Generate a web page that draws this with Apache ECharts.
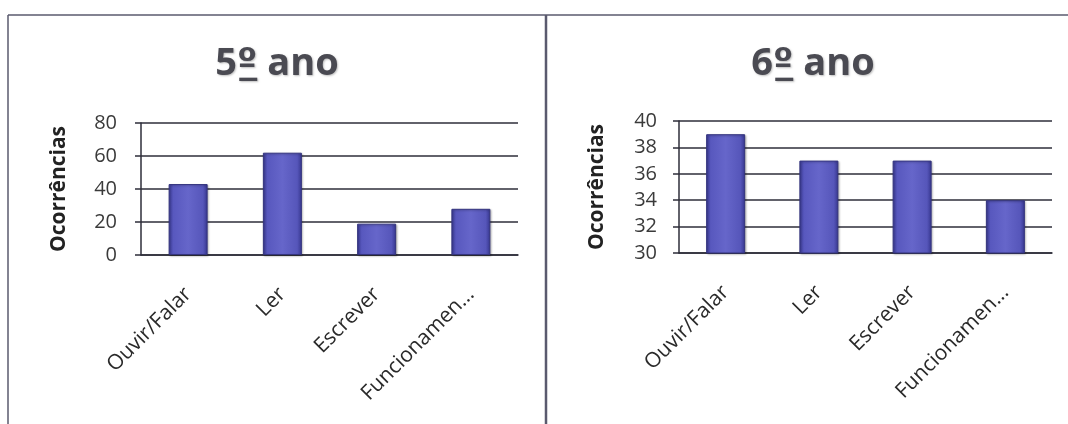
<!DOCTYPE html>
<html>
<head>
<meta charset="utf-8">
<script src="https://cdn.jsdelivr.net/npm/echarts@6/dist/echarts.min.js"></script>
<style>
  html, body { margin: 0; padding: 0; background: #fff; }
  #chart { width: 1068px; height: 424px; }
</style>
</head>
<body>
<div id="chart"></div>
<script>
// Skill categories shared by both panels
const categories = ['Ouvir/Falar', 'Ler', 'Escrever', 'Funcionamen...'];

// Occurrences per category, 5th and 6th year
const values5 = [43, 62, 19, 28];
const values6 = [39, 37, 37, 34];

// Panel titles (year number + ordinal) and axis ranges
const titleYears = ['5', '6'];
const titleSuffix = 'º ano';
const yAxisName = 'Ocorrências';
const range5 = { min: 0, max: 80, interval: 20 };
const range6 = { min: 30, max: 40, interval: 2 };

const FONT = '"Open Sans", "Liberation Sans", sans-serif';

const barColor = {
  type: 'linear', x: 0, y: 0, x2: 1, y2: 0,
  colorStops: [
    { offset: 0, color: '#3c3c98' },
    { offset: 0.12, color: '#5858be' },
    { offset: 0.5, color: '#6666ca' },
    { offset: 0.88, color: '#5656ba' },
    { offset: 1, color: '#36368e' }
  ]
};

function xAxis(gridIndex) {
  return {
    type: 'category', gridIndex, data: categories,
    axisLine: { show: true, lineStyle: { color: '#2e2e3a', width: 1.5 } },
    axisTick: { show: false },
    axisLabel: {
      rotate: 45, interval: 0, margin: 36,
      fontFamily: FONT, fontSize: 21, color: '#2a2a2a'
    }
  };
}

function yAxis(gridIndex, r, labelMargin) {
  return {
    type: 'value', gridIndex, min: r.min, max: r.max, interval: r.interval,
    name: yAxisName, nameLocation: 'middle', nameGap: 71, nameRotate: 90,
    nameTextStyle: { fontFamily: FONT, fontSize: 21, fontWeight: 'bold', color: '#222' },
    axisLine: { show: true, lineStyle: { color: '#2e2e3a', width: 1.5 } },
    axisTick: { show: true, length: 6, lineStyle: { color: '#2e2e3a', width: 1.5 } },
    axisLabel: { fontFamily: FONT, fontSize: 20, color: '#3a3a3a', margin: labelMargin },
    splitLine: { show: true, lineStyle: { color: '#2e2e3a', width: 1.5 } }
  };
}

function barSeries(idx, data) {
  return {
    type: 'bar', xAxisIndex: idx, yAxisIndex: idx, data,
    barWidth: 39,
    itemStyle: {
      color: barColor,
      borderColor: '#34347e', borderWidth: 1,
      shadowColor: 'rgba(0,0,0,0.25)', shadowBlur: 2, shadowOffsetX: 1, shadowOffsetY: 1
    }
  };
}

const shadow = { textShadowColor: 'rgba(0,0,0,0.25)', textShadowBlur: 2, textShadowOffsetX: 1, textShadowOffsetY: 1 };
const titleStyle = Object.assign({
  fontFamily: FONT, fontSize: 38, fontWeight: 'bold', color: '#4a4a52',
  rich: {
    n: Object.assign({ fontFamily: FONT, fontSize: 38, fontWeight: 'bold', color: '#4a4a52' }, shadow),
    // ordinal indicator drawn with a combining low line beneath it
    o: Object.assign({ fontFamily: '"DejaVu Sans"', fontSize: 36, fontWeight: 'bold', color: '#4a4a52' }, shadow)
  }
}, shadow);

function titleText(year) {
  return '{n|' + year + '}{o|' + titleSuffix.charAt(0) + '\u0332}{n|' + titleSuffix.slice(1) + '}';
}

const frameColor = '#5a5a6e';

const option = {
  backgroundColor: '#fff',
  animation: false,
  title: [
    { text: titleText(titleYears[0]), left: 272, top: 40, textAlign: 'center', textStyle: titleStyle },
    { text: titleText(titleYears[1]), left: 808, top: 40, textAlign: 'center', textStyle: titleStyle }
  ],
  grid: [
    { left: 141, top: 123, width: 377, height: 132 },
    { left: 679, top: 121, width: 373, height: 132 }
  ],
  xAxis: [xAxis(0), xAxis(1)],
  yAxis: [yAxis(0, range5, 24), yAxis(1, range6, 22)],
  series: [barSeries(0, values5), barSeries(1, values6)],
  graphic: [
    { type: 'line', shape: { x1: 8, y1: 15, x2: 1068, y2: 15 }, style: { stroke: frameColor, lineWidth: 1.5 } },
    { type: 'line', shape: { x1: 8, y1: 15, x2: 8, y2: 424 }, style: { stroke: frameColor, lineWidth: 1.5 } },
    { type: 'line', shape: { x1: 546, y1: 15, x2: 546, y2: 424 }, style: { stroke: frameColor, lineWidth: 2.5 } }
  ]
};

const chart = echarts.init(document.getElementById('chart'), null, { renderer: 'canvas' });
chart.setOption(option);
</script>
</body>
</html>
